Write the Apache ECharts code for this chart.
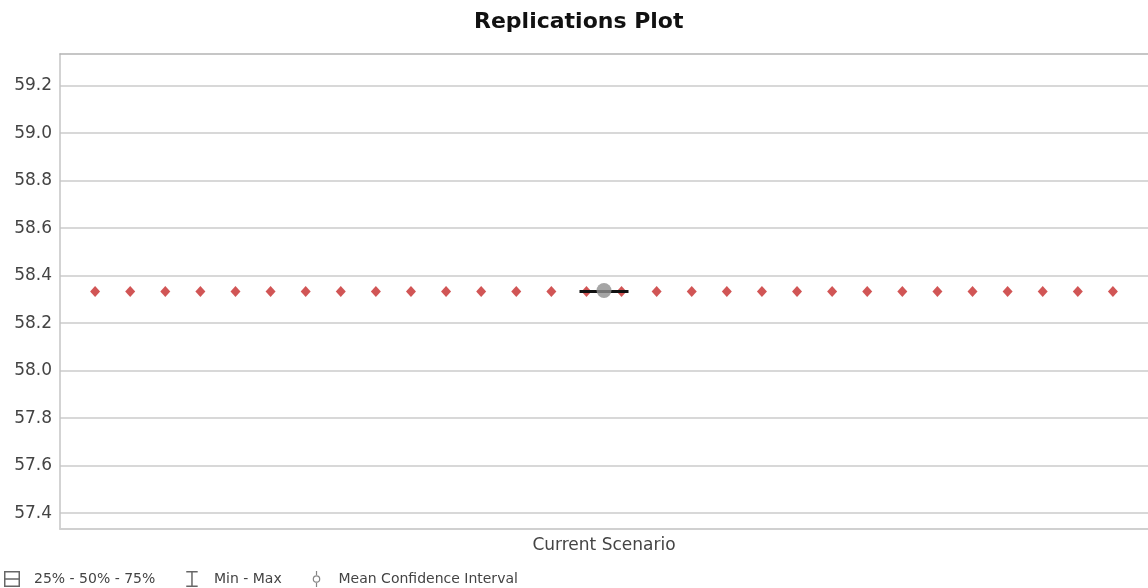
<!DOCTYPE html>
<html>
<head>
<meta charset="utf-8">
<script src="https://cdn.jsdelivr.net/npm/echarts@6/dist/echarts.min.js"></script>
<style>
html,body{margin:0;padding:0;background:#fff;}
#chart{width:1148px;height:588px;}
</style>
</head>
<body>
<div id="chart"></div>
<script>
// ---- data ----
const titleText = 'Replications Plot';
const categories = ['Current Scenario'];
const yTicks = [57.4, 57.6, 57.8, 58.0, 58.2, 58.4, 58.6, 58.8, 59.0, 59.2];
const yMin = 57.333;
const yMax = 59.333;
// replication results (30 replications)
const replicationValues = [
  58.333, 58.333, 58.333, 58.333, 58.333, 58.333, 58.333, 58.333, 58.333, 58.333,
  58.333, 58.333, 58.333, 58.333, 58.333, 58.333, 58.333, 58.333, 58.333, 58.333,
  58.333, 58.333, 58.333, 58.333, 58.333, 58.333, 58.333, 58.333, 58.333, 58.333
];
// [min, q1, median, q3, max]
const boxValues = [[58.333, 58.333, 58.333, 58.333, 58.333]];
const meanValues = [58.337];
const legendNames = ['25% - 50% - 75%', 'Min - Max', 'Mean Confidence Interval'];

// ---- chart ----
const chart = echarts.init(document.getElementById('chart'), null, {renderer: 'canvas'});
const font = 'DejaVu Sans';
const iconBox = 'path://M0 0H14V14H0Z M1.3 1.3V6.35H12.7V1.3Z M1.3 7.65V12.7H12.7V7.65Z';
const iconMinMax = 'path://M2 0H12V1.3H2Z M2 12.7H12V14H2Z M6.35 0H7.65V14H6.35Z';
const iconMean = 'path://M3.4 0H4.6V4.6H3.4Z M3.4 11.4H4.6V16H3.4Z M0.2 8A3.8 3.8 0 1 0 7.8 8A3.8 3.8 0 1 0 0.2 8Z M1.4 8A2.6 2.6 0 1 1 6.6 8A2.6 2.6 0 1 1 1.4 8Z';
const legendIconStyle = {color: '#666', borderWidth: 0, borderColor: 'rgba(0,0,0,0)'};

const replicationData = replicationValues.map((v, i) => [i, v]);

chart.setOption({
  animation: false,
  backgroundColor: '#ffffff',
  title: {
    text: titleText,
    left: 469,
    top: 6,
    textStyle: {fontFamily: font, fontSize: 22, fontWeight: 'bold', color: '#111'}
  },
  legend: {
    left: -1,
    top: 566,
    itemWidth: 18,
    itemHeight: 16,
    itemGap: 31,
    selectedMode: false,
    textStyle: {fontFamily: font, fontSize: 14, color: '#444', padding: [0, 0, 0, 8]},
    data: [
      {name: legendNames[0], icon: iconBox, itemStyle: legendIconStyle},
      {name: legendNames[1], icon: iconMinMax, itemStyle: legendIconStyle},
      {name: legendNames[2], icon: iconMean, itemStyle: legendIconStyle}
    ]
  },
  grid: {left: 60, right: -4, top: 54, bottom: 59, containLabel: false},
  xAxis: [
    {
      type: 'category',
      data: categories,
      boundaryGap: true,
      position: 'bottom',
      axisLine: {show: true, onZero: false, lineStyle: {color: '#d0d0d0', width: 2}},
      axisTick: {show: false},
      axisLabel: {fontFamily: font, fontSize: 17, color: '#444', margin: 8},
      splitLine: {show: false}
    },
    {
      type: 'value',
      min: -1,
      max: 30,
      position: 'top',
      axisLine: {show: true, onZero: false, lineStyle: {color: '#b4b4b4', width: 1.5}},
      axisTick: {show: false},
      axisLabel: {show: false},
      splitLine: {show: false}
    }
  ],
  yAxis: {
    type: 'value',
    min: yMin,
    max: yMax,
    position: 'left',
    axisLine: {show: true, onZero: false, lineStyle: {color: '#c4c4c4', width: 1.5}},
    axisTick: {show: false, customValues: yTicks},
    axisLabel: {
      customValues: yTicks,
      fontFamily: font, fontSize: 17, color: '#444', margin: 8,
      formatter: v => Number(v).toFixed(1)
    },
    splitLine: {show: true, lineStyle: {color: '#d8d8d8', width: 2}}
  },
  series: [
    {
      name: 'Replications',
      type: 'scatter',
      xAxisIndex: 1,
      yAxisIndex: 0,
      symbol: 'diamond',
      symbolSize: [10, 11],
      itemStyle: {color: '#c62a2a'},
      data: replicationData,
      z: 2
    },
    {
      name: legendNames[0],
      type: 'boxplot',
      xAxisIndex: 0,
      boxWidth: [49, 49],
      itemStyle: {color: 'rgba(0,0,0,0)', borderColor: '#111', borderWidth: 3},
      data: boxValues,
      z: 3
    },
    {
      name: legendNames[1],
      type: 'line',
      xAxisIndex: 0,
      data: [],
      itemStyle: {color: '#666'}
    },
    {
      name: legendNames[2],
      type: 'scatter',
      xAxisIndex: 0,
      symbol: 'circle',
      symbolSize: 15,
      itemStyle: {color: '#8e8e8e'},
      data: meanValues,
      z: 4
    }
  ]
});
</script>
</body>
</html>
